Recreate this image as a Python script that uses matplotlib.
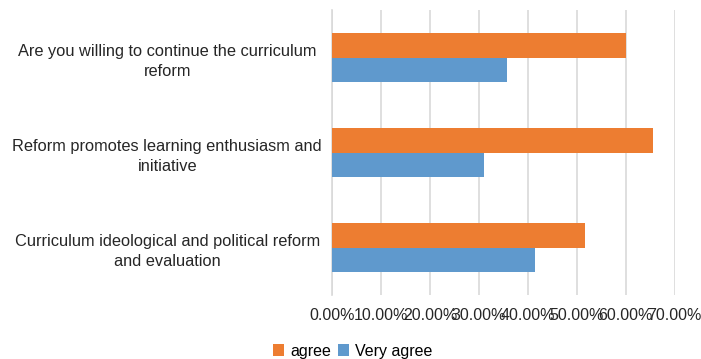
#!/usr/bin/env python3
"""
Horizontal bar chart: attitudes towards the curriculum reform.
"""

import matplotlib
matplotlib.use("Agg")
import matplotlib.pyplot as plt
import numpy as np
from matplotlib.ticker import FuncFormatter

categories = [
    "Curriculum ideological and political reform\nand evaluation",
    "Reform promotes learning enthusiasm and\ninitiative",
    "Are you willing to continue the curriculum\nreform",
]
agree = [0.516, 0.655, 0.600]
very_agree = [0.414, 0.310, 0.357]
x_ticks = [0.0, 0.1, 0.2, 0.3, 0.4, 0.5, 0.6, 0.7]

ORANGE = "#ED7D31"
BLUE = "#5F99CD"

plt.rcParams["font.family"] = ["Liberation Sans", "DejaVu Sans"]

fig = plt.figure(figsize=(7.01, 3.59), dpi=100)
ax = fig.add_axes([0.4743, 0.178, 0.488, 0.794])

y = np.arange(len(categories))
h = 0.26
ax.barh(y + h / 2, agree, h, color=ORANGE, label="agree", zorder=3)
ax.barh(y - h / 2, very_agree, h, color=BLUE, label="Very agree", zorder=3)

ax.set_xlim(0, 0.7)
ax.set_ylim(-0.5, len(categories) - 0.5)
ax.set_xticks(x_ticks)
ax.xaxis.set_major_formatter(FuncFormatter(lambda v, _: f"{v * 100:.2f}%"))
ax.set_yticks(y)
ax.set_yticklabels(categories, ha="center", fontsize=11.8, color="#262626",
                   linespacing=1.45)
ax.tick_params(axis="y", length=0, pad=119)
ax.tick_params(axis="x", length=0, pad=9, labelsize=11.5, labelcolor="#262626")

ax.grid(True, axis="x", color="#d9d9d9", linewidth=1.2, zorder=0)
for s in ["top", "right", "bottom"]:
    ax.spines[s].set_visible(False)
ax.spines["left"].set_color("#d9d9d9")
ax.spines["left"].set_linewidth(1.2)

handles, labels = ax.get_legend_handles_labels()
fig.legend(handles, labels, loc="center", bbox_to_anchor=(0.503, 0.022),
           ncol=2, frameon=False, fontsize=11.5, handlelength=0.7,
           handleheight=0.7, handletextpad=0.35, columnspacing=0.45)

fig.savefig("out.png", dpi=100)
